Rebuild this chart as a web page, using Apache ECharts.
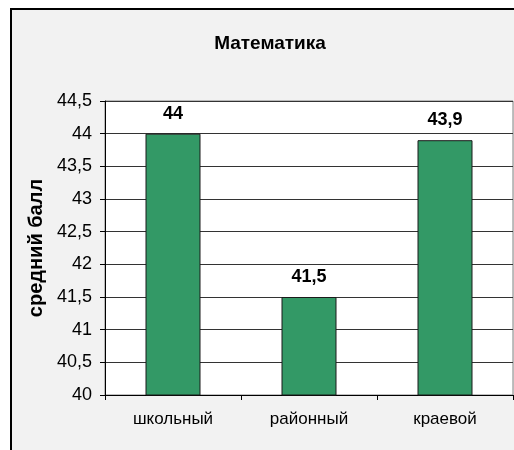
<!DOCTYPE html>
<html>
<head>
<meta charset="utf-8">
<script src="https://cdn.jsdelivr.net/npm/echarts@6/dist/echarts.min.js"></script>
<style>
html,body{margin:0;padding:0;background:#ffffff;}
#chart{width:514px;height:450px;}
</style>
</head>
<body>
<div id="chart"></div>
<script>
var titleText = 'Математика';
var axisTitle = 'средний балл';
var categories = ['школьный', 'районный', 'краевой'];
var values = [44, 41.5, 43.9];
var yMin = 40, yMax = 44.5, yStep = 0.5;

function comma(v){ return String(v).replace('.', ','); }

var chart = echarts.init(document.getElementById('chart'), null, {renderer:'canvas'});
chart.setOption({
  animation: false,
  backgroundColor: '#ffffff',
  textStyle: {fontFamily: 'Liberation Sans, Arial, sans-serif'},
  graphic: [{
    type: 'rect', z: -100, silent: true,
    shape: {x: 11, y: 9, width: 700, height: 700},
    style: {fill: '#f2f2f2', stroke: '#000000', lineWidth: 2}
  }],
  title: {
    text: titleText, left: 265, top: 29, textAlign: 'center',
    textStyle: {fontSize: 19, fontWeight: 'bold', color: '#000', fontFamily: 'Liberation Sans, Arial, sans-serif'}
  },
  grid: {
    left: 105, top: 101, right: 1, bottom: 55,
    show: true, backgroundColor: '#ffffff', borderColor: '#808080', borderWidth: 1
  },
  xAxis: {
    type: 'category', data: categories,
    axisLine: {lineStyle: {color: '#000', width: 1}},
    axisTick: {show: true, length: 5, lineStyle: {color: '#000'}},
    axisLabel: {fontSize: 17, color: '#000', margin: 16, fontFamily: 'Liberation Sans, Arial, sans-serif'},
    splitLine: {show: false}
  },
  yAxis: {
    type: 'value', min: yMin, max: yMax, interval: yStep,
    name: axisTitle, nameLocation: 'middle', nameGap: 56, nameRotate: 90,
    nameTextStyle: {fontSize: 20, fontWeight: 'bold', color: '#000', fontFamily: 'Liberation Sans, Arial, sans-serif'},
    axisLine: {show: true, lineStyle: {color: '#000', width: 1}},
    axisTick: {show: true, length: 5, lineStyle: {color: '#000'}},
    axisLabel: {fontSize: 18, color: '#000', margin: 13, formatter: function(v){ return comma(v); }, fontFamily: 'Liberation Sans, Arial, sans-serif'},
    splitLine: {show: true, lineStyle: {color: '#333333', width: 1}}
  },
  series: [{
    type: 'bar', data: values, barWidth: 55,
    itemStyle: {color: '#339966', borderColor: '#1a1a1a', borderWidth: 1},
    label: {
      show: true, position: 'top', distance: 11,
      formatter: function(p){ return comma(p.value); },
      fontSize: 18, fontWeight: 'bold', color: '#000', fontFamily: 'Liberation Sans, Arial, sans-serif'
    }
  }]
});
</script>
</body>
</html>
